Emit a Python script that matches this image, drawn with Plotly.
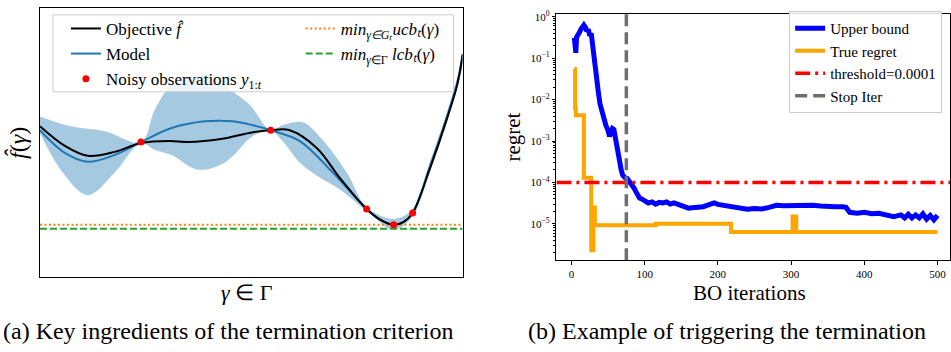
import plotly.graph_objects as go

# ---------------- Panel (a): key ingredients ----------------
obj_x = [0.0, 0.059, 0.113, 0.177, 0.239, 0.307, 0.350, 0.428, 0.504, 0.546, 0.591,
         0.655, 0.709, 0.773, 0.806, 0.837, 0.861, 0.882, 0.922, 0.962, 0.988, 1.0]
obj_y = [1.53, 1.33, 1.23, 1.27, 1.36, 1.38, 1.37, 1.40, 1.47, 1.49, 1.49,
         1.31, 1.01, 0.69, 0.58, 0.53, 0.56, 0.65, 1.09, 1.59, 1.96, 2.26]

model_x = [0.0, 0.059, 0.113, 0.177, 0.239, 0.310, 0.390, 0.456, 0.504, 0.546, 0.615,
           0.693, 0.773, 0.806, 0.837, 0.861, 0.882, 0.922, 0.962, 0.988, 1.0]
model_y = [1.49, 1.26, 1.17, 1.24, 1.37, 1.51, 1.58, 1.58, 1.54, 1.49, 1.38,
           1.06, 0.69, 0.58, 0.53, 0.56, 0.65, 1.11, 1.61, 1.98, 2.21]

upper_x = [0.0, 0.073, 0.154, 0.239, 0.272, 0.310, 0.350, 0.414, 0.456, 0.496, 0.546,
           0.574, 0.622, 0.669, 0.726, 0.773, 0.837, 0.882, 0.922, 0.962, 0.988, 1.0]
upper_y = [1.63, 1.53, 1.48, 1.37, 1.70, 1.94, 2.01, 2.01, 1.88, 1.75, 1.49,
           1.54, 1.57, 1.39, 1.06, 0.71, 0.59, 0.69, 1.16, 1.66, 2.04, 2.28]

lower_x = [0.0, 0.054, 0.113, 0.177, 0.239, 0.272, 0.310, 0.374, 0.437, 0.504, 0.546,
           0.574, 0.615, 0.655, 0.709, 0.773, 0.837, 0.882, 0.922, 0.962, 0.988, 1.0]
lower_y = [1.46, 1.06, 0.83, 1.06, 1.36, 1.29, 1.24, 1.09, 1.16, 1.43, 1.49,
           1.38, 1.16, 1.03, 0.89, 0.67, 0.48, 0.62, 1.06, 1.56, 1.92, 2.14]

obs_x = [0.239, 0.546, 0.773, 0.837, 0.882]
obs_y = [1.37, 1.49, 0.69, 0.53, 0.65]

ucb_level = 0.53
lcb_level = 0.49
a_xrange = [0.0, 1.0]
a_yrange = [0.0, 2.73]

# ---------------- Panel (b): triggering the termination ----------------
ub_iter = [4, 5, 6, 7, 9, 11, 13, 15, 17, 19, 21, 23, 25, 27, 29, 31, 33, 35, 37, 39,
           41, 43, 45, 47, 50, 52, 54, 56, 58, 60, 62, 64, 66, 68, 70, 72, 74, 76, 78, 80,
           82, 84, 86, 88, 90, 93, 96, 100, 105, 110, 115, 120, 125, 130, 135, 140, 145, 150,
           155, 160, 165, 170, 180, 190, 195, 200, 210, 220, 230, 240, 250, 260, 270, 280,
           290, 300, 310, 320, 330, 340, 350, 360, 370, 375, 380, 390, 400, 410, 420, 430,
           440, 450, 455, 460, 465, 470, 475, 480, 485, 490, 495, 500]
ub_val = [0.31, 0.18, 0.135, 0.32, 0.35, 0.42, 0.50, 0.60, 0.63, 0.56, 0.45, 0.50, 0.35,
          0.40, 0.18, 0.089, 0.035, 0.018, 0.014, 0.0079, 0.0056, 0.0040, 0.0032, 0.0024,
          0.0018, 0.0013, 0.0016, 0.0020, 0.0019, 0.0011, 0.0010, 5.0e-4, 3.2e-4, 2.0e-4,
          1.5e-4, 1.3e-4, 1.26e-4, 1.25e-4, 1.12e-4, 1.07e-4, 8.9e-5, 7.9e-5, 7.1e-5,
          6.0e-5, 5.0e-5, 4.2e-5, 4.0e-5, 3.7e-5, 3.2e-5, 3.4e-5, 3.0e-5, 3.3e-5, 3.2e-5,
          3.4e-5, 3.0e-5, 3.2e-5, 3.0e-5, 2.8e-5, 2.6e-5, 2.4e-5, 2.45e-5, 2.5e-5, 2.6e-5,
          3.0e-5, 3.2e-5, 2.95e-5, 2.75e-5, 2.6e-5, 2.4e-5, 2.25e-5, 2.35e-5, 2.3e-5,
          2.5e-5, 2.8e-5, 2.75e-5, 2.8e-5, 2.7e-5, 2.75e-5, 2.8e-5, 2.7e-5, 2.6e-5, 2.6e-5,
          2.6e-5, 2.5e-5, 1.9e-5, 1.8e-5, 1.9e-5, 1.75e-5, 1.8e-5, 1.6e-5, 1.5e-5, 1.65e-5,
          1.4e-5, 1.7e-5, 1.4e-5, 1.65e-5, 1.4e-5, 1.75e-5, 1.3e-5, 1.6e-5, 1.25e-5, 1.6e-5]

tr_iter = [4, 5, 6, 17, 27, 30, 32, 115, 218, 302, 307, 500]
tr_val = [0.055, 0.0062, 0.0042, 1.3e-4, 2.3e-6, 2.5e-5, 9.3e-6, 1.0e-5, 6.4e-6,
          1.5e-5, 6.4e-6, 6.4e-6]

threshold = 1e-4
stop_iter = 75
b_xrange = [-20.5, 517]
b_logrange = [-5.88, 0.07]
b_xticks = [0, 100, 200, 300, 400, 500]
b_yticks = [1e-5, 1e-4, 1e-3, 1e-2, 1e-1, 1]
b_yticktext = ["10<sup>\u22125</sup>", "10<sup>\u22124</sup>", "10<sup>\u22123</sup>",
               "10<sup>\u22122</sup>", "10<sup>\u22121</sup>", "10<sup>0</sup>"]
b_minor = [m * 10.0 ** e for e in range(-6, 1) for m in range(2, 10)]

FONT = "Liberation Serif"
W, H = 951, 352

fig = go.Figure()

# band
fig.add_trace(go.Scatter(x=lower_x, y=lower_y, mode="lines", line=dict(width=0, shape="spline"),
                         showlegend=False, xaxis="x", yaxis="y", hoverinfo="skip"))
fig.add_trace(go.Scatter(x=upper_x, y=upper_y, mode="lines", line=dict(width=0, shape="spline"),
                         fill="tonexty", fillcolor="rgba(31,119,180,0.4)",
                         showlegend=False, xaxis="x", yaxis="y", hoverinfo="skip"))
fig.add_trace(go.Scatter(x=a_xrange, y=[ucb_level, ucb_level], mode="lines",
                         line=dict(color="#ff7f0e", width=2, dash="2px,2.5px"),
                         name="<i>min</i><sub><i>\u03b3\u2208G\u209c</i></sub><i>ucb\u209c</i>(<i>\u03b3</i>)",
                         legend="legend3", xaxis="x", yaxis="y"))
fig.add_trace(go.Scatter(x=a_xrange, y=[lcb_level, lcb_level], mode="lines",
                         line=dict(color="#2ca02c", width=2, dash="7px,3px"),
                         name="<i>min</i><sub><i>\u03b3</i>\u2208\u0393</sub> <i>lcb\u209c</i>(<i>\u03b3</i>)",
                         legend="legend3", xaxis="x", yaxis="y"))
fig.add_trace(go.Scatter(x=model_x, y=model_y, mode="lines",
                         line=dict(color="#1f77b4", width=2, shape="spline"),
                         name="Model", legend="legend", legendrank=2, xaxis="x", yaxis="y"))
fig.add_trace(go.Scatter(x=obj_x, y=obj_y, mode="lines",
                         line=dict(color="black", width=2, shape="spline"),
                         name="Objective <i>f\u0302</i>", legend="legend", legendrank=1,
                         xaxis="x", yaxis="y"))
fig.add_trace(go.Scatter(x=obs_x, y=obs_y, mode="markers",
                         marker=dict(color="red", size=7),
                         name="Noisy observations <i>y</i><sub>1:<i>t</i></sub>",
                         legend="legend", legendrank=3, xaxis="x", yaxis="y"))

# panel b
fig.add_trace(go.Scatter(x=ub_iter, y=ub_val, mode="lines",
                         line=dict(color="blue", width=5), name="Upper bound",
                         legend="legend2", xaxis="x2", yaxis="y2"))
fig.add_trace(go.Scatter(x=tr_iter, y=tr_val, mode="lines",
                         line=dict(color="orange", width=4, shape="hv"), name="True regret",
                         legend="legend2", xaxis="x2", yaxis="y2"))
fig.add_trace(go.Scatter(x=b_xrange, y=[threshold, threshold], mode="lines",
                         line=dict(color="red", width=3.5, dash="15px,5px,3px,5px"),
                         name="threshold=0.0001", legend="legend2", xaxis="x2", yaxis="y2"))
fig.add_trace(go.Scatter(x=[stop_iter, stop_iter],
                         y=[10 ** b_logrange[0], 10 ** b_logrange[1]], mode="lines",
                         line=dict(color="#6e6e6e", width=3.5, dash="12px,6px"),
                         name="Stop Iter", legend="legend2", xaxis="x2", yaxis="y2"))

ax_line = dict(showline=True, linecolor="black", linewidth=1, mirror=True, showgrid=False,
               zeroline=False)


def ann(text, x, y, size, angle=0):
    return dict(text=text, x=x / W, y=1 - y / H, xref="paper", yref="paper",
                xanchor="center", yanchor="middle", showarrow=False, textangle=angle,
                font=dict(size=size, family=FONT, color="black"))


fig.update_layout(
    width=W, height=H,
    margin=dict(l=0, r=0, t=0, b=0),
    paper_bgcolor="white", plot_bgcolor="white",
    font=dict(family=FONT, color="black"),
    xaxis=dict(domain=[40 / W, 463 / W], range=a_xrange, showticklabels=False, ticks="",
               **ax_line),
    yaxis=dict(domain=[1 - 276 / H, 1 - 3 / H], range=a_yrange, showticklabels=False,
               ticks="", **ax_line),
    xaxis2=dict(domain=[557 / W, 1.0], range=b_xrange, anchor="y2", tickvals=b_xticks,
                ticks="outside", ticklen=3.5, tickwidth=1, tickcolor="black",
                tickfont=dict(size=11, family=FONT), **ax_line),
    yaxis2=dict(domain=[1 - 259 / H, 1 - 9 / H], type="log", range=b_logrange, anchor="x2",
                tickvals=b_yticks, ticktext=b_yticktext, ticks="outside", ticklen=3.5,
                tickwidth=1, tickcolor="black", tickfont=dict(size=11, family=FONT),
                minor=dict(ticks="outside", ticklen=2, tickwidth=0.8, tickcolor="black",
                           tickvals=b_minor),
                **ax_line),
    legend=dict(x=66 / W, y=1 - 6 / H, xanchor="left", yanchor="top",
                bgcolor="rgba(0,0,0,0)", borderwidth=0, font=dict(size=17, family=FONT),
                traceorder="normal"),
    legend3=dict(x=301 / W, y=1 - 6 / H, xanchor="left", yanchor="top",
                 bgcolor="rgba(0,0,0,0)", borderwidth=0, font=dict(size=17, family=FONT)),
    legend2=dict(x=790 / W, y=1 - 6 / H, xanchor="left", yanchor="top",
                 bgcolor="rgba(255,255,255,0.85)", bordercolor="#cccccc", borderwidth=1,
                 font=dict(size=15, family=FONT)),
    shapes=[dict(type="rect", xref="paper", yref="paper", x0=53 / W, x1=454 / W,
                 y0=1 - 88 / H, y1=1 - 10 / H, fillcolor="rgba(255,255,255,0.8)",
                 line=dict(color="#cccccc", width=1), layer="above")],
    annotations=[
        ann("<i>f\u0302</i>(<i>\u03b3</i>)", 17, 140, 24, -90),
        ann("<i>\u03b3</i> \u2208 \u0393", 247, 292, 22),
        ann("regret", 514, 134, 21, -90),
        ann("BO iterations", 750, 292, 21),
        ann("(a) Key ingredients of the termination criterion", 229, 331, 24),
        ann("(b) Example of triggering the termination", 728, 331, 24),
    ],
)

fig.write_html("out.html")
